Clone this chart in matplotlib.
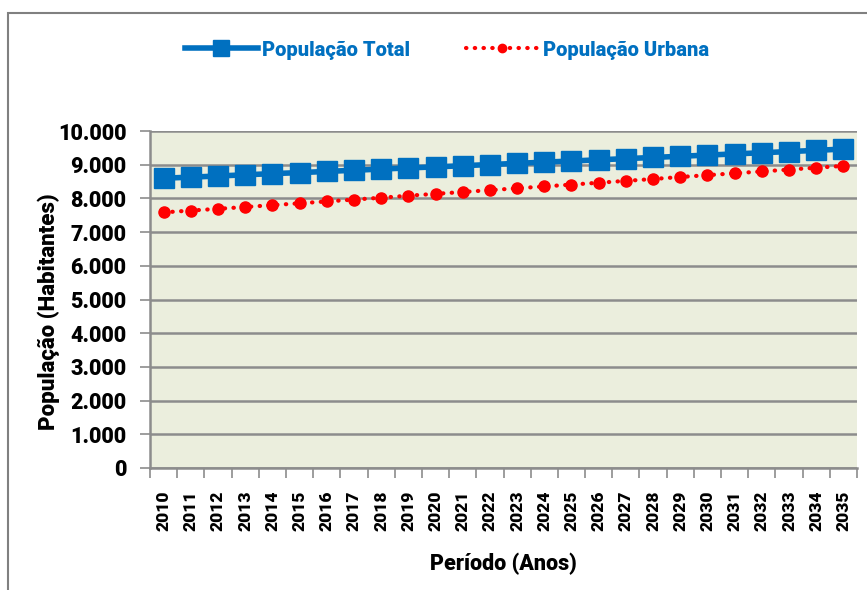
import matplotlib.pyplot as plt
import matplotlib.patches as mpatches
from matplotlib.ticker import FuncFormatter, FixedLocator

plt.rcParams['font.family'] = ['Roboto', 'DejaVu Sans']
plt.rcParams['font.weight'] = 'heavy'

# data
anos = [str(a) for a in range(2010, 2036)]
pop_total = [8600, 8630, 8665, 8700, 8735, 8765, 8800, 8835, 8870, 8905,
             8935, 8970, 9005, 9040, 9075, 9110, 9145, 9180, 9215, 9250,
             9285, 9320, 9355, 9390, 9425, 9465]
pop_urbana = [7585, 7640, 7690, 7745, 7800, 7855, 7910, 7965, 8020, 8080,
              8135, 8190, 8245, 8300, 8355, 8410, 8465, 8520, 8575, 8635,
              8690, 8745, 8800, 8855, 8910, 8965]

azul = '#0070C0'
grid_c = '#8C8C8C'

fig = plt.figure(figsize=(8.67, 5.9), dpi=100)
ax = fig.add_axes([150 / 867, 1 - 468 / 590, 707 / 867, 337 / 590])
ax.set_facecolor('#EBEEDD')

x = list(range(len(anos)))
ax.plot(x, pop_total, color=azul, lw=4, marker='s', ms=15,
        label='População Total', zorder=3)
ax.plot(x, pop_urbana, color='red', lw=3, ls=(0, (0.1, 2.0)),
        dash_capstyle='round', marker='o', ms=8,
        label='População Urbana', zorder=4)

ax.set_xlim(-0.5, len(anos) - 0.5)
ax.set_ylim(0, 10000)
ax.set_yticks(range(0, 10001, 1000))
ax.yaxis.set_major_formatter(FuncFormatter(lambda v, p: f'{int(v):,}'.replace(',', '.')))
ax.grid(axis='y', color=grid_c, lw=1.8)
ax.set_axisbelow(True)

# ticks between categories, labels on categories
ax.xaxis.set_major_locator(FixedLocator([i - 0.5 for i in range(len(anos) + 1)]))
ax.xaxis.set_major_formatter(FuncFormatter(lambda v, p: ''))
ax.set_xticks(x, anos, minor=True, rotation=90, fontsize=12.5, fontweight='heavy')
ax.tick_params(axis='x', which='major', length=7, width=1.2, color=grid_c)
ax.tick_params(axis='x', which='minor', length=0, pad=16)
ax.tick_params(axis='y', length=7, width=1.2, color=grid_c, labelsize=15.5, pad=10)

for s in ['top', 'right']:
    ax.spines[s].set_visible(False)
for s in ['left', 'bottom']:
    ax.spines[s].set_color(grid_c)
    ax.spines[s].set_linewidth(1.8)

ax.set_ylabel('População (Habitantes)', fontsize=16, fontweight='heavy')
ax.yaxis.set_label_coords(-0.128, 0.463)
ax.set_xlabel('Período (Anos)', fontsize=15.5, fontweight='heavy', labelpad=16)

leg = fig.legend(loc='center', bbox_to_anchor=(447 / 867, 1 - 50 / 590), ncol=2,
                 frameon=False, fontsize=14.5, handlelength=3.6, columnspacing=2.8,
                 handletextpad=0.2, markerscale=0.75)
for t in leg.get_texts():
    t.set_color(azul)
    t.set_fontweight('heavy')

# outer chart frame
fig.patches.append(mpatches.Rectangle((8 / 867, -0.1), 1.2, 1.1 - 13 / 590,
                                      transform=fig.transFigure, fill=False,
                                      edgecolor='#808080', lw=1.5))

fig.savefig('out.png', dpi=100)
